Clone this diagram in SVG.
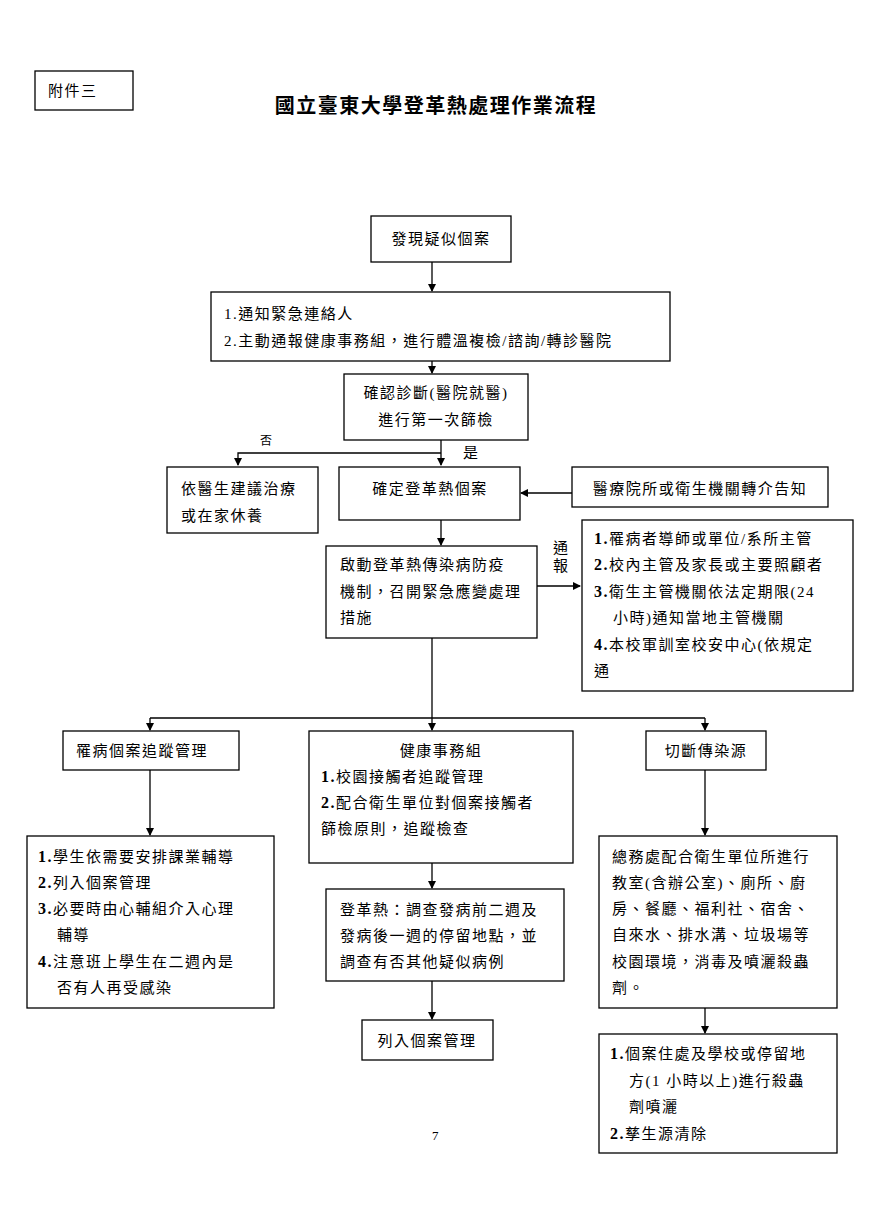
<svg xmlns="http://www.w3.org/2000/svg" width="869" height="1231" viewBox="0 0 869 1231">
<style>
rect{fill:#fff;stroke:#000;stroke-width:1.3}
text{font-family:"Liberation Serif","Noto Sans CJK TC",serif;font-size:15px;letter-spacing:1.5px;fill:#000}
.c{text-anchor:middle}
.n{font-weight:bold;font-size:16px}
.cn{stroke:#000;stroke-width:1.3;fill:none}
</style>
<defs><marker id="a" markerWidth="8" markerHeight="8" refX="7" refY="4" orient="auto" markerUnits="userSpaceOnUse"><path d="M0,0L8,4L0,8z" fill="#000"/></marker></defs>
<rect x="0" y="0" width="869" height="1231" style="stroke:none"/>
<g id="tag"><rect x="35" y="71" width="98" height="39"/><text x="48" y="96">附件三</text></g>
<text x="436" y="113" class="c" style="font-size:20px;font-weight:bold">國立臺東大學登革熱處理作業流程</text>
<g id="connectors" class="cn">
<path d="M432,262V291" marker-end="url(#a)"/>
<path d="M432,361V373" marker-end="url(#a)"/>
<path d="M441,440V465" marker-end="url(#a)"/>
<path d="M441,453H238V465" marker-end="url(#a)"/>
<path d="M572,493H521" marker-end="url(#a)"/>
<path d="M441,520V545" marker-end="url(#a)"/>
<path d="M537,586H580" marker-end="url(#a)"/>
<path d="M432,638V730" marker-end="url(#a)"/>
<path d="M150,718H705"/>
<path d="M150,718V730" marker-end="url(#a)"/>
<path d="M705,718V730" marker-end="url(#a)"/>
<path d="M150,770V835" marker-end="url(#a)"/>
<path d="M705,770V835" marker-end="url(#a)"/>
<path d="M432,863V888" marker-end="url(#a)"/>
<path d="M432,981V1019" marker-end="url(#a)"/>
<path d="M705,1008V1033" marker-end="url(#a)"/>
</g>
<text x="260" y="445" style="font-size:12px">否</text>
<text x="463" y="458">是</text>
<text x="553" y="553">通</text>
<text x="553" y="571">報</text>
<g id="n1"><rect x="371" y="216" width="140" height="46"/><text x="441" y="244" class="c">發現疑似個案</text></g>
<g id="n2"><rect x="211" y="292" width="459" height="69"/><text x="224" y="319">1.通知緊急連絡人</text><text x="224" y="346">2.主動通報健康事務組，進行體溫複檢/諮詢/轉診醫院</text></g>
<g id="n3"><rect x="344" y="374" width="184" height="66"/><text x="436" y="398" class="c">確認診斷(醫院就醫)</text><text x="436" y="425" class="c">進行第一次篩檢</text></g>
<g id="n4"><rect x="167" y="467" width="151" height="66"/><text x="181" y="494">依醫生建議治療</text><text x="181" y="521">或在家休養</text></g>
<g id="n5"><rect x="339" y="467" width="181" height="53"/><text x="430" y="494" class="c">確定登革熱個案</text></g>
<g id="n6"><rect x="572" y="467" width="256" height="40"/><text x="700" y="494" class="c">醫療院所或衛生機關轉介告知</text></g>
<g id="n7"><rect x="326" y="546" width="211" height="92"/><text x="340" y="570">啟動登革熱傳染病防疫</text><text x="340" y="597">機制，召開緊急應變處理</text><text x="340" y="623">措施</text></g>
<g id="n8"><rect x="582" y="520" width="271" height="171"/>
<text x="594" y="544"><tspan class="n">1.</tspan>罹病者導師或單位/系所主管</text>
<text x="594" y="570"><tspan class="n">2.</tspan>校內主管及家長或主要照顧者</text>
<text x="594" y="597"><tspan class="n">3.</tspan>衛生主管機關依法定期限(24</text>
<text x="613" y="623">小時)通知當地主管機關</text>
<text x="594" y="650"><tspan class="n">4.</tspan>本校軍訓室校安中心(依規定</text>
<text x="594" y="676">通</text></g>
<g id="n9"><rect x="63" y="731" width="176" height="39"/><text x="76" y="756">罹病個案追蹤管理</text></g>
<g id="n10"><rect x="309" y="731" width="264" height="132"/><text x="441" y="756" class="c">健康事務組</text>
<text x="321" y="782"><tspan class="n">1.</tspan>校園接觸者追蹤管理</text>
<text x="321" y="808"><tspan class="n">2.</tspan>配合衛生單位對個案接觸者</text>
<text x="321" y="834">篩檢原則，追蹤檢查</text></g>
<g id="n11"><rect x="646" y="731" width="120" height="39"/><text x="706" y="756" class="c">切斷傳染源</text></g>
<g id="n12"><rect x="27" y="836" width="247" height="172"/>
<text x="38" y="862"><tspan class="n">1.</tspan>學生依需要安排課業輔導</text>
<text x="38" y="888"><tspan class="n">2.</tspan>列入個案管理</text>
<text x="38" y="914"><tspan class="n">3.</tspan>必要時由心輔組介入心理</text>
<text x="57" y="940">輔導</text>
<text x="38" y="967"><tspan class="n">4.</tspan>注意班上學生在二週內是</text>
<text x="57" y="993">否有人再受感染</text></g>
<g id="n13"><rect x="326" y="889" width="238" height="92"/><text x="340" y="915">登革熱：調查發病前二週及</text><text x="340" y="941">發病後一週的停留地點，並</text><text x="340" y="967">調查有否其他疑似病例</text></g>
<g id="n14"><rect x="362" y="1020" width="131" height="40"/><text x="427" y="1046" class="c">列入個案管理</text></g>
<g id="n15"><rect x="599" y="836" width="238" height="172"/>
<text x="612" y="862">總務處配合衛生單位所進行</text>
<text x="612" y="888">教室(含辦公室)、廁所、廚</text>
<text x="612" y="914">房、餐廳、福利社、宿舍、</text>
<text x="612" y="940">自來水、排水溝、垃圾場等</text>
<text x="612" y="967">校園環境，消毒及噴灑殺蟲</text>
<text x="612" y="993">劑。</text></g>
<g id="n16"><rect x="599" y="1034" width="238" height="119"/>
<text x="610" y="1059"><tspan class="n">1.</tspan>個案住處及學校或停留地</text>
<text x="629" y="1086">方(1 小時以上)進行殺蟲</text>
<text x="629" y="1112">劑噴灑</text>
<text x="610" y="1139"><tspan class="n">2.</tspan>孳生源清除</text></g>
<text x="436" y="1140" class="c" style="font-size:13px">7</text>
</svg>
